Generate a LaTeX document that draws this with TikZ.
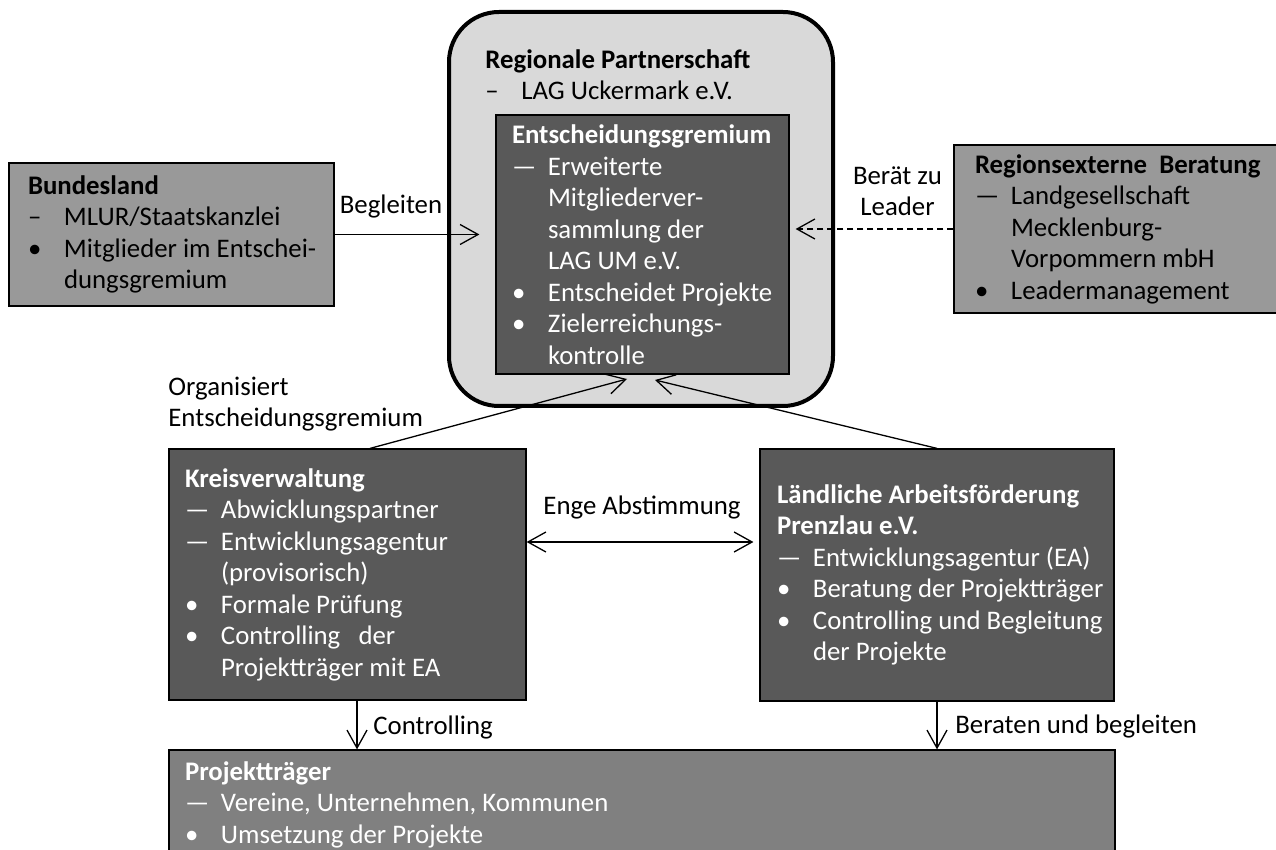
\documentclass[tikz,border=0pt]{standalone}
\usepackage{fontspec}
\setmainfont{Carlito}
\usetikzlibrary{arrows.meta}
\newcommand{\li}[2]{\mbox{\makebox[18pt][l]{#1}#2}}

\begin{document}
\begin{tikzpicture}[x=0.5pt, y=-0.5pt,
    every node/.style={font={\fontsize{13.4pt}{15.75pt}\selectfont}},
    box/.style={draw=black, line width=0.6pt, align=flush left, inner xsep=8pt, inner ysep=0pt},
    link/.style={line width=0.65pt},
    >={Straight Barb[length=9pt, width=10pt]}]
  \useasboundingbox (0,0) rectangle (1276,850);

  % Regionale Partnerschaft
  \node[draw=black, line width=2pt, fill=black!15, rounded corners=25pt,
        minimum width=192pt, minimum height=197pt] (partner) at (641,209) {};
  \node[anchor=west, align=flush left, inner sep=0pt] (partnertxt) at (485,74.5)
    {\textbf{Regionale Partnerschaft}\\ \li{–}{LAG Uckermark e.V.}};
  \node[box, fill=black!65, text=white, minimum width=146.5pt, minimum height=129.5pt,
        text width=130.5pt] (gremium) at (642.5,244.5)
    {\textbf{Entscheidungsgremium}\\ \li{—}{Erweiterte}\\ \li{}{Mitgliederver-}\\
     \li{}{sammlung der}\\ \li{}{LAG UM e.V.}\\ \li{•}{Entscheidet Projekte}\\
     \li{•}{Zielerreichungs-}\\ \li{}{kontrolle}};

  % Bundesland und externe Beratung
  \node[box, fill=black!40, inner xsep=9.5pt, minimum width=162.5pt, minimum height=71.5pt,
        text width=143.5pt] (bund) at (171.5,234.5)
    {\textbf{Bundesland}\\ \li{–}{MLUR/Staatskanzlei}\\ \li{•}{Mitglieder im Entschei-}\\
     \li{}{dungsgremium}};
  \node[box, fill=black!40, inner xsep=10.5pt, minimum width=163pt, minimum height=84pt,
        text width=142pt] (extern) at (1117,229)
    {\mbox{\textbf{Regionsexterne\ \ Beratung}}\\ \li{—}{Landgesellschaft}\\
     \li{}{Mecklenburg-}\\ \li{}{Vorpommern mbH}\\ \li{•}{Leadermanagement}};

  % Kreisverwaltung und Arbeitsfoerderung
  \node[box, fill=black!65, text=white, minimum width=178.5pt, minimum height=125.5pt,
        text width=162.5pt] (kreis) at (347.5,574.5)
    {\textbf{Kreisverwaltung}\\ \li{—}{Abwicklungspartner}\\ \li{—}{Entwicklungsagentur}\\
     \li{}{(provisorisch)}\\ \li{•}{Formale Prüfung}\\ \li{•}{Controlling\ \ \ der}\\
     \li{}{Projektträger mit EA}};
  \node[box, fill=black!65, text=white, inner xsep=8.5pt, minimum width=177pt,
        minimum height=126pt, text width=160pt] (laend) at (937,575)
    {\mbox{\textbf{Ländliche Arbeitsförderung}}\\ \textbf{Prenzlau e.V.}\\
     \li{—}{Entwicklungsagentur (EA)}\\ \li{•}{Beratung der Projektträger}\\
     \li{•}{Controlling und Begleitung}\\ \li{}{der Projekte}};

  % Projekttraeger
  \node[box, fill=black!50, text=white, minimum width=473pt, minimum height=54.5pt,
        text width=457pt] (proj) at (642,804.5)
    {\textbf{Projektträger}\\ \li{—}{Vereine, Unternehmen, Kommunen}\\
     \li{•}{Umsetzung der Projekte}};

  % Verbindungen
  \coordinate (tipL) at (627,379);
  \coordinate (tipR) at (655,380);
  \draw[link, ->, shorten >=8pt] (bund.east) -- (bund.east -| gremium.west);
  \draw[link, ->, dash pattern=on 3pt off 2pt, shorten >=3pt] (extern.west) -- (extern.west -| gremium.east);
  \draw[link, ->] ([xshift=11.25pt]kreis.north) -- (tipL);
  \draw[link, ->] (laend.north) -- (tipR);
  \draw[link, <->, shorten >=3pt] ([yshift=16.25pt]kreis.east) -- ([yshift=16.25pt]kreis.east -| laend.west);
  \draw[link, ->] ([xshift=4.75pt]kreis.south) -- ([xshift=4.75pt]kreis.south |- proj.north);
  \draw[link, ->] (laend.south) -- (laend.south |- proj.north);

  % Beschriftungen
  \node (begleiten) at (391,207) {Begleiten};
  \node[align=flush center] (beraet) at (897.5,191) {Berät zu\\Leader};
  \node (enge) at (642,507) {Enge Abstimmung};
  \node[anchor=west, align=flush left, inner sep=0pt] (organisiert) at (168,404)
    {Organisiert\\Entscheidungsgremium};
  \node[anchor=west, inner sep=0pt] (controlling) at (373,727) {Controlling};
  \node[anchor=west, inner sep=0pt] (beraten) at (955,726) {Beraten und begleiten};
\end{tikzpicture}
\end{document}
